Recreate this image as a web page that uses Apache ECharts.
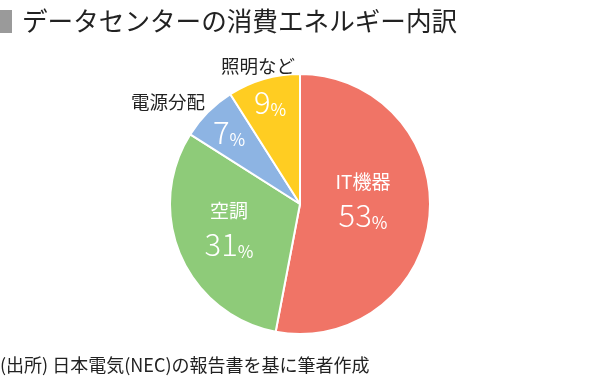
<!DOCTYPE html>
<html><head><meta charset="utf-8">
<script src="https://cdn.jsdelivr.net/npm/echarts@6/dist/echarts.min.js"></script>
<style>html,body{margin:0;padding:0;background:#fff}#c{width:600px;height:383px}</style>
</head><body><div id="c"></div>
<script>
const categories = ['IT機器', '空調', '電源分配', '照明など'];
const values = [53, 31, 7, 9];
const colors = ['#F07466', '#8ECB79', '#8DB4E3', '#FFCD22'];
const titleText = 'データセンターの消費エネルギー内訳';
const sourceText = '(出所) 日本電気(NEC)の報告書を基に筆者作成';

const FONT = '"Noto Sans CJK JP", "Noto Sans", sans-serif';
const innerName = [true, true, false, false];
// label anchor positions (px) for inside labels and outside names
const insidePos = [[363, 200], [229, 229], [229, 132], [270, 102]];
const outsidePos = [[168, 102], [258, 66]];

const chart = echarts.init(document.getElementById('c'), null, {renderer: 'canvas'});
const data = categories.map((n, i) => ({name: n, value: values[i], itemStyle: {color: colors[i]}}));

chart.setOption({
  animation: false,
  title: [{
    text: titleText, left: 17, top: 3,
    textStyle: {fontFamily: FONT, fontSize: 25.6, fontWeight: 'normal', color: '#222'}
  }, {
    text: sourceText, left: -5, top: 351,
    textStyle: {fontFamily: FONT, fontSize: 18, fontWeight: 'normal', color: '#222'}
  }],
  graphic: [{type: 'rect', shape: {x: 0, y: 10, width: 12, height: 23}, style: {fill: '#9a9a9a'}}],
  series: [{
    type: 'pie',
    center: [300, 204],
    radius: [0, 130],
    startAngle: 90,
    clockwise: true,
    data: data,
    itemStyle: {borderColor: '#fff', borderWidth: 2},
    label: {
      position: 'inside',
      color: '#fff',
      fontFamily: FONT,
      formatter: p => (innerName[p.dataIndex] ? '{n|' + p.name + '}\n' : '') + '{v|' + p.value + '}{p|%}',
      rich: {
        n: {fontSize: 19, color: '#fff', fontFamily: FONT, lineHeight: 30, align: 'center'},
        v: {fontSize: 31, color: '#fff', fontFamily: FONT, lineHeight: 36, fontWeight: 300},
        p: {fontSize: 17, color: '#fff', fontFamily: FONT, lineHeight: 36, verticalAlign: 'bottom', padding: [0, 0, 2, 0]}
      }
    },
    labelLine: {show: false},
    labelLayout: p => ({x: insidePos[p.dataIndex][0], y: insidePos[p.dataIndex][1], align: 'center', verticalAlign: 'middle'})
  }, {
    type: 'pie',
    center: [300, 204],
    radius: [0, 130],
    startAngle: 90,
    silent: true,
    data: data.map((d, i) => ({name: d.name, value: d.value, itemStyle: {color: 'rgba(0,0,0,0)'},
      label: {show: !innerName[i]}})),
    label: {position: 'outside', color: '#222', fontFamily: FONT, fontSize: 18.5, formatter: '{b}'},
    labelLine: {show: false},
    labelLayout: p => {
      const k = p.dataIndex - 2;
      if (k < 0) return {};
      return {x: outsidePos[k][0], y: outsidePos[k][1], align: 'center', verticalAlign: 'middle'};
    }
  }]
});
</script></body></html>
